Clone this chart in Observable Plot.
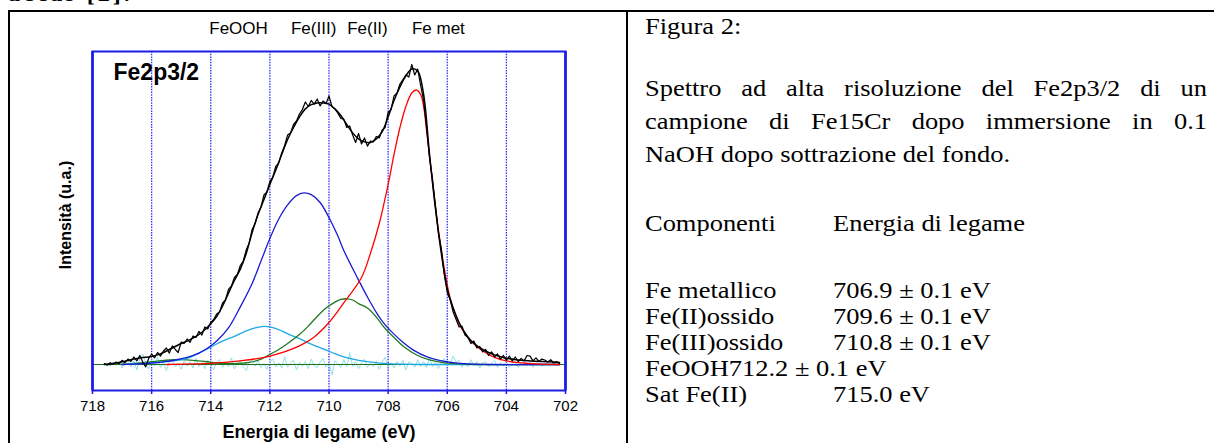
<!DOCTYPE html>
<html><head><meta charset="utf-8">
<script src="https://cdn.jsdelivr.net/npm/d3@7"></script>
<script src="https://cdn.jsdelivr.net/npm/@observablehq/plot@0.6"></script>
<style>
html,body{margin:0;padding:0;background:#fff;width:1214px;height:443px;overflow:hidden;position:relative}
.ser{position:absolute;font-family:"Liberation Serif","Times New Roman",serif;font-size:23px;line-height:26px;color:#000;white-space:nowrap;transform-origin:0 0}
.just{text-align:justify;text-align-last:justify;white-space:normal}
.bl{position:absolute;background:#000}
#chart{position:absolute;left:10px;top:12px}
</style></head><body>
<div class="ser" style="left:8px;top:-19px;font-weight:bold;font-size:24px;line-height:24px;letter-spacing:3px">accas [2].</div>
<div class="bl" style="left:8px;top:10px;width:1206px;height:2px"></div>
<div class="bl" style="left:8px;top:10px;width:2px;height:440px"></div>
<div class="bl" style="left:626px;top:10px;width:2px;height:440px"></div>
<div id="chart"></div>
<div id="txt"></div>
<script>
// ---- data ----
const tickLabels = [718, 716, 714, 712, 710, 708, 706, 704, 702];
const gridEnergies = [716, 714, 712, 710, 708, 706, 704];
const edgeEnergies = [718, 702];
const peakLabels = ["FeOOH", "Fe(III)", "Fe(II)", "Fe met"];
const peakLabelEnergies = [713.06, 710.52, 708.7, 706.3];

// experimental spectrum, 717.6 -> 702.2 eV, step 0.1
const expStart = 717.6, expStep = 0.1;
const experimental = [
  3,-2,6,1,8,3,14,
  6,18,10,25,12,30,8,-8,20,35,
  22,40,28,45,55,38,62,50,40,75,
  70,85,74,95,90,110,98,125,118,140,
  150,168,175,205,215,250,262,290,300,330,
  345,382,405,450,470,505,525,565,575,610,
  625,660,672,705,730,765,772,800,812,835,
  850,875,860,880,868,885,862,878,870,895,
  860,852,838,820,818,790,795,765,740,770,
  735,755,728,745,742,760,755,782,790,840,
  850,895,905,935,950,965,958,1000,965,985,
  930,880,790,690,620,530,440,385,300,240,
  215,175,150,125,128,98,90,70,78,55,
  60,42,50,30,42,25,35,18,30,14,
  28,12,25,10,20,12,30,28,12,22,
  10,18,15,8,16,5,10,3
];
// residual, same grid
const residual = [
  0,4,-6,8,-3,10,-12,5,14,-8,
  12,-18,20,35,6,-15,16,-5,24,-10,
  8,-20,10,18,-8,4,-16,12,-6,9,
  -12,20,-8,6,-14,15,-4,-18,9,16,
  -10,6,-8,22,-15,4,12,-9,-20,8,
  16,-6,12,-10,4,-16,9,18,-8,6,
  -12,26,-9,4,14,-18,8,-6,10,-14,
  18,-4,-10,8,20,-9,6,-35,12,4,
  -10,16,-8,40,-6,9,-14,6,18,-10,
  4,-8,12,-16,8,24,-9,6,-12,10,
  -4,14,-18,8,4,-9,16,-6,10,-10,
  22,-8,6,-14,9,20,-6,4,28,8,
  14,-9,6,-8,16,-4,10,-12,6,9,
  -8,4,14,-10,6,-6,12,-9,4,8,
  -10,6,9,-4,8,-9,4,6,-6,2,
  4,-4,6,-2,0
];
// fitted envelope, 717.6 -> 702.2 eV, step 0.2
const envStart = 717.6, envStep = 0.2;
const envelope = [
  0,2,5,9,13,18,22,24,27,32,40,50,60,70,78,88,100,116,136,160,
  195,238,280,318,370,440,500,550,600,648,700,750,790,825,852,866,872,872,868,852,
  830,800,772,752,742,740,752,776,825,880,925,962,985,978,900,700,520,370,252,188,
  140,105,80,63,50,40,32,26,21,18,15,13,12,11,10,9,8,7
];
// components [energy, intensity]
const feMet = [[715.5,0],[714.5,2],[714.0,4],[713.0,12],[712.0,28],[711.0,62],[710.5,92],[710.0,140],[709.5,205],[708.9,290],[708.6,370],[708.3,470],[708.0,600],[707.8,700],[707.6,790],[707.4,860],[707.2,905],[707.05,915],[706.9,900],[706.8,860],[706.7,780],[706.5,610],[706.3,450],[706.1,320],[705.9,220],[705.7,160],[705.5,118],[705.2,78],[704.8,45],[704.4,24],[704.0,12],[703.6,6],[703.0,2],[702.2,0]];
const fe3 = [[717.0,0],[716.5,2],[716.0,5],[715.6,9],[715.2,15],[714.8,24],[714.4,38],[714.1,55],[713.8,78],[713.4,122],[713.0,192],[712.6,270],[712.3,345],[712.0,420],[711.7,485],[711.4,532],[711.1,563],[710.85,572],[710.6,566],[710.3,540],[709.95,480],[709.7,428],[709.5,380],[709.05,291],[708.7,225],[708.37,169],[708.1,132],[707.81,102],[707.5,74],[707.13,47],[706.7,26],[706.23,13],[705.8,6],[705.3,2],[704.5,0],[702.2,0]];
const fe2 = [[714.0,0],[713.4,2],[712.7,7],[712.3,18],[712.0,34],[711.7,50],[711.4,70],[711.0,100],[710.7,128],[710.4,160],[710.1,188],[709.8,208],[709.6,217],[709.4,219],[709.2,215],[709.0,203],[708.7,188],[708.4,158],[708.1,120],[707.8,90],[707.5,62],[707.0,30],[706.6,15],[706.2,7],[705.6,2],[705.0,0],[702.2,0]];
const satFe2 = [[717.5,0],[716.8,2],[716.3,6],[715.8,11],[715.4,15],[715.0,16],[714.6,14],[714.2,10],[713.8,5],[713.3,2],[712.8,0]];
const feooh = [[717.0,0],[716.5,3],[716.0,6],[715.7,8],[715.2,13],[714.8,20],[714.4,38],[714.0,58],[713.6,78],[713.2,94],[712.8,112],[712.5,122],[712.2,127],[711.9,123],[711.6,112],[711.3,98],[711.0,86],[710.6,68],[710.2,52],[709.9,40],[709.5,25],[709.0,14],[708.5,7],[708.0,3],[707.5,1],[707.0,0],[702.2,0]];

// ---- right column text ----
const captionTitle = "Figura 2:";
const captionLines = ["Spettro ad alta risoluzione del Fe2p3/2 di un", "campione di Fe15Cr dopo immersione in 0.1", "NaOH dopo sottrazione del fondo."];
const tableHead = ["Componenti", "Energia di legame"];
const compNames = ["Fe metallico", "Fe(II)ossido", "Fe(III)ossido", "FeOOH", "Sat Fe(II)"];
const compEnergies = ["706.9 ± 0.1 eV", "709.6 ± 0.1 eV", "710.8 ± 0.1 eV", "712.2 ± 0.1 eV", "715.0 eV"];

// ---- chart ----
const grid = (arr, start, step) => arr.map((v, i) => ({e: +(start - i * step).toFixed(2), v}));
const expData = grid(experimental, expStart, expStep);
const resData = grid(residual, expStart, expStep);
const envData = grid(envelope, envStart, envStep);
const BLUE = "#1c1ce6";
const sm = "catmull-rom";

const chart = Plot.plot({
  width: 610, height: 430,
  marginLeft: 82, marginRight: 55, marginTop: 39, marginBottom: 52,
  style: {fontFamily: "'Liberation Sans', Arial, sans-serif", background: "transparent", overflow: "visible"},
  x: {domain: [718, 702], axis: null},
  y: {domain: [-86.7, 1043.3], axis: null},
  marks: [
    Plot.ruleX(gridEnergies, {stroke: "#3030ff", strokeWidth: 1.3, strokeDasharray: "1.5,1.2"}),
    Plot.line(resData, {x: "e", y: "v", stroke: "#92e0ec", strokeWidth: 1}),
    Plot.ruleY([0], {stroke: "#1f6f1f", strokeWidth: 1.2}),
    Plot.line(satFe2, {x: d => d[0], y: d => d[1], stroke: "#1f7a1f", strokeWidth: 1.3, curve: sm}),
    Plot.line(feooh, {x: d => d[0], y: d => d[1], stroke: "#1ea9e6", strokeWidth: 1.3, curve: sm}),
    Plot.line(fe2, {x: d => d[0], y: d => d[1], stroke: "#1f7a1f", strokeWidth: 1.3, curve: sm}),
    Plot.line(fe3, {x: d => d[0], y: d => d[1], stroke: "#1a1ad6", strokeWidth: 1.3, curve: sm}),
    Plot.line(feMet, {x: d => d[0], y: d => d[1], stroke: "#ff0000", strokeWidth: 1.3, curve: sm}),
    Plot.line(expData, {x: "e", y: "v", stroke: "#000", strokeWidth: 1.2}),
    Plot.line(envData, {x: "e", y: "v", stroke: "#000", strokeWidth: 1.5, curve: sm}),
    Plot.frame({stroke: BLUE, strokeWidth: 2}),
    Plot.ruleX(edgeEnergies, {stroke: BLUE, strokeWidth: 2.6}),
    Plot.axisX({ticks: tickLabels, tickSize: 4, tickFormat: () => "", stroke: BLUE, strokeWidth: 1.5, label: null}),
    Plot.text(tickLabels, {x: d => d, text: d => String(d), frameAnchor: "bottom", lineAnchor: "middle", dy: 15.7, fontSize: 15, fill: "#000"}),
    Plot.text(peakLabels, {x: (d, i) => peakLabelEnergies[i], text: d => d, frameAnchor: "top", lineAnchor: "middle", dy: -23, fontSize: 17, fill: "#000"}),
    Plot.text(["Energia di legame (eV)"], {frameAnchor: "bottom", lineAnchor: "middle", dy: 42, dx: -10, fontSize: 18, fontWeight: "bold", fill: "#000"}),
    Plot.text(["Intensità (u.a.)"], {frameAnchor: "left", textAnchor: "middle", lineAnchor: "middle", dx: -27, dy: -6, rotate: -90, fontSize: 16, fontWeight: "bold", fill: "#000"}),
    Plot.text(["Fe2p3/2"], {frameAnchor: "top-left", textAnchor: "start", lineAnchor: "middle", dx: 21, dy: 21.5, fontSize: 23, fontWeight: "bold", fill: "#000"})
  ]
});
document.getElementById("chart").appendChild(chart);

// text placement: baseline = top + 20.7 ; horizontal stretch as in the scanned page
const K = 1.15;
const txt = document.getElementById("txt");
function addLine(text, left, baseline, justify = false) {
  const d = document.createElement("div");
  d.className = "ser" + (justify ? " just" : "");
  d.style.left = left + "px";
  d.style.top = (baseline - 20.7) + "px";
  d.style.transform = `scaleX(${K})`;
  if (justify) d.style.width = (562 / K) + "px";
  d.textContent = text;
  txt.appendChild(d);
}
addLine(captionTitle, 645, 35);
const capBase = [97, 130, 163];
captionLines.forEach((t, i) => addLine(t, 645, capBase[i], i < 2));
addLine(tableHead[0], 645, 232);
addLine(tableHead[1], 833, 232);
const rowBase = [299, 325, 351, 377, 403];
compNames.forEach((n, i) => {
  if (n === "FeOOH") {
    addLine(n + compEnergies[i], 645, rowBase[i]);
  } else {
    addLine(n, 645, rowBase[i]);
    addLine(compEnergies[i], 833, rowBase[i]);
  }
});
</script>
</body></html>
